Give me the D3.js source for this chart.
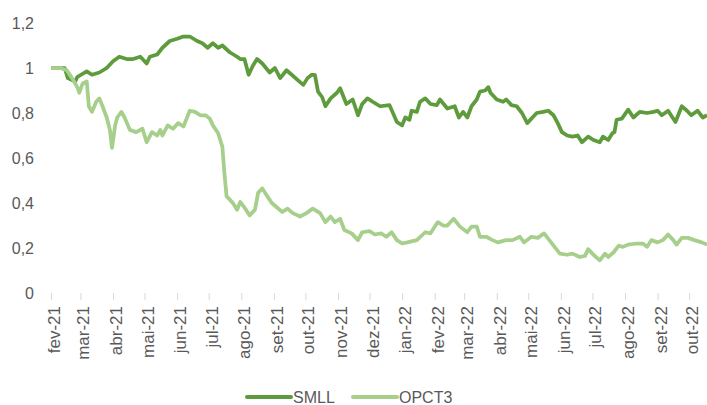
<!DOCTYPE html>
<html>
<head>
<meta charset="utf-8">
<script src="https://cdn.jsdelivr.net/npm/d3@7"></script>
<style>
  body { margin: 0; background: #fff; }
  svg { display: block; font-family: "Liberation Sans", Arial, sans-serif; }
  .axis text { fill: #595959; font-size: 16px; }
  .x-axis text { font-size: 17px; }
  .x-axis line { stroke: #d9d9d9; }
</style>
</head>
<body>
<div id="chart"></div>
<script>
// series names
const seriesNames = ["SMLL", "OPCT3"];

// month tick labels (pt-BR)
const tickLabels = ["fev-21","mar-21","abr-21","mai-21","jun-21","jul-21","ago-21","set-21","out-21","nov-21","dez-21",
  "jan-22","fev-22","mar-22","abr-22","mai-22","jun-22","jul-22","ago-22","set-22","out-22"];

const yTicks = [0, 0.2, 0.4, 0.6, 0.8, 1, 1.2];

// SMLL, normalised to 1 at start
const smllDates = [
  "2021-02-01","2021-02-08","2021-02-14","2021-02-17","2021-02-24","2021-02-26",
  "2021-03-07","2021-03-12","2021-03-19","2021-03-26",
  "2021-04-01","2021-04-07","2021-04-14","2021-04-20","2021-04-27",
  "2021-05-03","2021-05-06","2021-05-13","2021-05-18","2021-05-25",
  "2021-06-01","2021-06-07","2021-06-13","2021-06-20","2021-06-25","2021-06-30",
  "2021-07-05","2021-07-10","2021-07-14","2021-07-21","2021-07-28","2021-07-31",
  "2021-08-04","2021-08-08","2021-08-12","2021-08-16","2021-08-21","2021-08-28",
  "2021-09-02","2021-09-07","2021-09-13","2021-09-18","2021-09-24","2021-09-29",
  "2021-10-03","2021-10-07","2021-10-10","2021-10-13","2021-10-17","2021-10-20","2021-10-25","2021-10-31",
  "2021-11-03","2021-11-09","2021-11-15","2021-11-20","2021-11-24","2021-11-29",
  "2021-12-04","2021-12-11","2021-12-20","2021-12-27",
  "2022-01-01","2022-01-04","2022-01-08","2022-01-10","2022-01-15","2022-01-18","2022-01-23","2022-01-28",
  "2022-02-03","2022-02-06","2022-02-13","2022-02-20","2022-02-24","2022-02-28",
  "2022-03-04","2022-03-08","2022-03-13","2022-03-16","2022-03-21","2022-03-24","2022-03-26",
  "2022-04-01","2022-04-07","2022-04-10","2022-04-15","2022-04-20","2022-04-25","2022-04-30",
  "2022-05-05","2022-05-09","2022-05-15","2022-05-20","2022-05-25","2022-05-29",
  "2022-06-02","2022-06-07","2022-06-12","2022-06-17","2022-06-21","2022-06-27",
  "2022-07-02","2022-07-08","2022-07-11","2022-07-16","2022-07-20","2022-07-22","2022-07-24","2022-07-29",
  "2022-08-04","2022-08-09","2022-08-15","2022-08-22","2022-08-28",
  "2022-09-01","2022-09-05","2022-09-11","2022-09-18","2022-09-24","2022-09-29",
  "2022-10-03","2022-10-09","2022-10-14","2022-10-18"];
const smllValues = [
  1.0,1.0,1.0,0.955,0.94,0.96,
  0.985,0.97,0.98,1.0,
  1.03,1.05,1.04,1.04,1.05,
  1.02,1.05,1.06,1.09,1.12,
  1.13,1.14,1.14,1.12,1.11,1.09,
  1.11,1.09,1.10,1.07,1.05,1.04,
  1.04,0.97,1.01,1.04,1.02,0.98,
  1.0,0.955,0.99,0.97,0.945,0.925,
  0.955,0.97,0.97,0.895,0.87,0.83,0.865,0.89,
  0.91,0.84,0.86,0.79,0.84,0.865,
  0.85,0.83,0.835,0.76,
  0.745,0.78,0.77,0.81,0.805,0.85,0.865,0.84,
  0.835,0.86,0.82,0.83,0.78,0.805,
  0.78,0.83,0.86,0.895,0.90,0.915,0.89,
  0.86,0.85,0.86,0.835,0.83,0.80,0.755,
  0.78,0.80,0.805,0.81,0.79,0.755,
  0.715,0.70,0.695,0.70,0.67,0.695,
  0.68,0.67,0.695,0.68,0.71,0.715,0.77,0.775,
  0.815,0.78,0.805,0.80,0.805,
  0.81,0.79,0.81,0.76,0.83,0.81,
  0.79,0.81,0.78,0.79];

// OPCT3, normalised to 1 at start
const opctDates = [
  "2021-02-01","2021-02-10","2021-02-16","2021-02-21","2021-02-26","2021-02-28",
  "2021-03-03","2021-03-07","2021-03-09","2021-03-12","2021-03-16","2021-03-19","2021-03-22","2021-03-26","2021-03-29","2021-03-31",
  "2021-04-03","2021-04-05","2021-04-09","2021-04-12","2021-04-17","2021-04-23","2021-04-29",
  "2021-05-03","2021-05-08","2021-05-13","2021-05-16","2021-05-18","2021-05-23","2021-05-28",
  "2021-06-02","2021-06-07","2021-06-10","2021-06-13","2021-06-18","2021-06-23","2021-06-28",
  "2021-07-02","2021-07-05","2021-07-10","2021-07-14","2021-07-16","2021-07-18","2021-07-21","2021-07-24","2021-07-28","2021-07-31",
  "2021-08-04","2021-08-09","2021-08-14","2021-08-17","2021-08-21","2021-08-25","2021-08-30",
  "2021-09-04","2021-09-09","2021-09-14","2021-09-19","2021-09-26",
  "2021-10-02","2021-10-08","2021-10-15","2021-10-20","2021-10-25","2021-10-29",
  "2021-11-03","2021-11-07","2021-11-14","2021-11-20","2021-11-24",
  "2021-12-01","2021-12-06","2021-12-12","2021-12-17","2021-12-22","2021-12-27",
  "2022-01-01","2022-01-06","2022-01-15","2022-01-23","2022-01-28",
  "2022-02-01","2022-02-04","2022-02-09","2022-02-13","2022-02-19","2022-02-25",
  "2022-03-04","2022-03-08","2022-03-13","2022-03-16","2022-03-22","2022-03-28",
  "2022-04-02","2022-04-10","2022-04-16","2022-04-23","2022-04-27",
  "2022-05-04","2022-05-10","2022-05-16","2022-05-21","2022-05-26","2022-05-31",
  "2022-06-07","2022-06-12","2022-06-19","2022-06-24","2022-06-27",
  "2022-07-02","2022-07-08","2022-07-13","2022-07-16","2022-07-21","2022-07-26","2022-07-30",
  "2022-08-04","2022-08-12","2022-08-18","2022-08-22","2022-08-26",
  "2022-09-01","2022-09-06","2022-09-11","2022-09-16","2022-09-19","2022-09-24","2022-09-30",
  "2022-10-06","2022-10-13","2022-10-18"];
const opctValues = [
  1.0,1.0,0.99,0.955,0.915,0.89,
  0.93,0.94,0.83,0.805,0.85,0.865,0.83,0.78,0.725,0.645,
  0.745,0.78,0.805,0.78,0.725,0.715,0.73,
  0.67,0.715,0.70,0.725,0.70,0.745,0.73,
  0.755,0.74,0.775,0.81,0.805,0.79,0.79,
  0.775,0.745,0.71,0.65,0.53,0.43,0.415,0.40,0.37,0.405,
  0.38,0.345,0.37,0.445,0.465,0.435,0.40,
  0.38,0.36,0.375,0.355,0.34,
  0.355,0.375,0.355,0.315,0.34,0.315,
  0.33,0.28,0.265,0.235,0.27,
  0.275,0.26,0.265,0.25,0.27,0.235,
  0.22,0.225,0.235,0.27,0.265,
  0.295,0.315,0.30,0.30,0.33,0.295,
  0.27,0.295,0.295,0.25,0.25,0.235,
  0.225,0.235,0.235,0.25,0.225,
  0.25,0.245,0.265,0.235,0.205,0.175,
  0.17,0.175,0.16,0.165,0.195,
  0.17,0.145,0.175,0.16,0.18,0.21,0.205,
  0.215,0.22,0.22,0.205,0.235,
  0.225,0.235,0.26,0.235,0.215,0.245,0.245,
  0.235,0.225,0.215];

const colors = ["#5e9b3c", "#a6cf8b"];

// layout
const width = 707, height = 405;
const plot = {left: 51, right: 707, top: 23, bottom: 293};

const parse = d3.timeParse("%Y-%m-%d");
const smll = smllDates.map((d, i) => ({date: parse(d), value: smllValues[i]}));
const opct = opctDates.map((d, i) => ({date: parse(d), value: opctValues[i]}));
const series = [smll, opct];

const x = d3.scaleTime()
  .domain([parse("2021-02-01"), parse("2022-10-18")])
  .range([plot.left, plot.right]);
const y = d3.scaleLinear()
  .domain([0, 1.2])
  .range([plot.bottom, plot.top]);

const ptBR = d3.formatLocale({decimal: ",", thousands: ".", grouping: [3], currency: ["R$", ""]});
const fmt = ptBR.format(".1~f");

const svg = d3.select("#chart").append("svg")
  .attr("width", width)
  .attr("height", height);

// y axis (labels only)
const yAxis = svg.append("g")
  .attr("class", "axis y-axis")
  .attr("transform", "translate(34,0)")
  .call(d3.axisLeft(y).tickValues(yTicks).tickSize(0).tickPadding(0).tickFormat(fmt));
yAxis.select(".domain").remove();

// x axis: month ticks, rotated labels
const monthTicks = d3.timeMonth.range(parse("2021-02-01"), parse("2022-11-01"));
const xAxis = svg.append("g")
  .attr("class", "axis x-axis")
  .attr("transform", "translate(0," + plot.bottom + ")")
  .call(d3.axisBottom(x).tickValues(monthTicks).tickSize(7).tickFormat((d, i) => tickLabels[i]));
xAxis.select(".domain").remove();
xAxis.selectAll("text")
  .attr("text-anchor", "end")
  .attr("dy", null)
  .attr("y", null)
  .attr("transform", "translate(8.5,13) rotate(-90)");

// lines
const line = d3.line()
  .x(d => x(d.date))
  .y(d => y(d.value));

svg.selectAll(".series")
  .data(series)
  .join("path")
  .attr("class", "series")
  .attr("fill", "none")
  .attr("stroke", (d, i) => colors[i])
  .attr("stroke-width", 3.75)
  .attr("stroke-linejoin", "round")
  .attr("d", line);

// legend
const legendX = [247, 353];
const legend = svg.append("g").attr("class", "legend");
const item = legend.selectAll("g")
  .data(seriesNames)
  .join("g")
  .attr("transform", (d, i) => "translate(" + legendX[i] + ",397)");
item.append("line")
  .attr("x1", 0).attr("x2", 44)
  .attr("stroke", (d, i) => colors[i])
  .attr("stroke-width", 4)
  .attr("stroke-linecap", "round");
item.append("text")
  .attr("x", 46)
  .attr("dy", "0.35em")
  .attr("fill", "#595959")
  .attr("font-size", 16)
  .text(d => d);
</script>
</body>
</html>
